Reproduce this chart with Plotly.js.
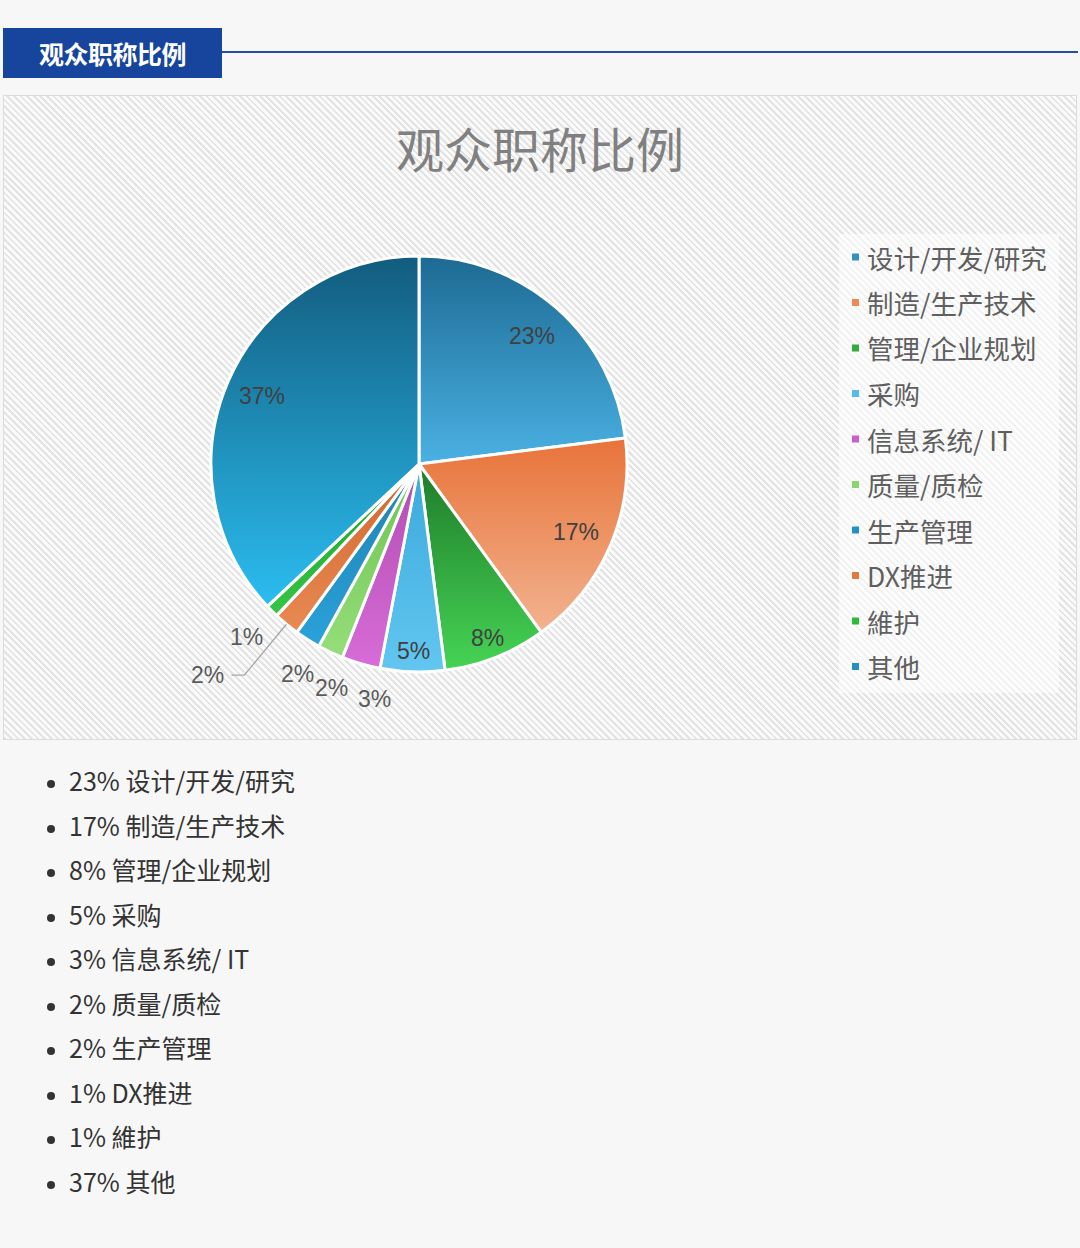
<!DOCTYPE html>
<html>
<head>
<meta charset="utf-8">
<script src="https://cdn.plot.ly/plotly-3.0.1.min.js"></script>
<style>
  html, body { margin: 0; padding: 0; background: #f7f7f7; }
  body { width: 1080px; height: 1248px; position: relative; overflow: hidden;
         font-family: "Noto Sans CJK SC", "Noto Sans", sans-serif; }
  #head { position: absolute; left: 3px; top: 28px; width: 219px; height: 50px;
          background: #17449c; color: #fff; font-weight: 700; font-size: 25px;
          line-height: 50px; text-align: center; letter-spacing: -0.5px; }
  #rule { position: absolute; left: 222px; top: 51px; width: 856px; height: 2px; background: #2350a5; }
  #chart { position: absolute; left: 3px; top: 95px; width: 1072px; height: 643px;
           border: 1px solid #dcdcdc;
           background: repeating-linear-gradient(45deg, #e3e3e3 0 1.9px, #fafafa 1.9px 4.7px); }
  #list { position: absolute; left: 0; top: 758px; margin: 0; padding-left: 69px;
          font-size: 25px; line-height: 44.5px; color: #333; }
  #list li::marker { color: #333; font-size: 20px; }
</style>
</head>
<body>
<div id="head">观众职称比例</div>
<div id="rule"></div>
<div id="chart"></div>
<ul id="list"></ul>
<script>
// categories, clockwise from 12 o'clock
const categories = ['设计/开发/研究', '制造/生产技术', '管理/企业规划', '采购', '信息系统/ IT',
  '质量/质检', '生产管理', 'DX推进', '維护', '其他'];
// shares as drawn in the pie
const shares = [23, 17, 8, 5, 3, 2, 2, 2, 1, 37];
// shares as written in the list below the chart
const listShares = [23, 17, 8, 5, 3, 2, 2, 1, 1, 37];
const colors = ['#3290c2', '#ec8a55', '#33ac3f', '#55bde9', '#c95fc9',
  '#8cd470', '#2690c4', '#e27a3f', '#2dbb3c', '#2290c2'];
// vertical shading of each slice (top -> bottom)
const shadeTop = ['#1d6a93', '#e8733a', '#1e7b2a', '#3aa9dc', '#b04cb0',
  '#6cc24e', '#1f7fb0', '#d0662e', '#1a9e2a', '#125c7e'];
const shadeBottom = ['#4ab1e3', '#f2b38f', '#46d455', '#62c6f0', '#d86cd8',
  '#96de7a', '#2aa2da', '#e88a52', '#35c646', '#2bbdf0'];
// where each percent label goes: in the slice, outside, or on a leader line
const labelStyle = ['in', 'in', 'in', 'in', 'out', 'out', 'out', 'lead', 'out', 'in'];

const W = 1072, H = 643;
const cx = 415, cy = 368, R = 208;      // pie centre / radius in px (matches domain below)
const legTop = 161, legStep = 45.5;

// px -> paper helpers
const px = (x) => x / W;
const py = (y) => 1 - y / H;
const total = shares.reduce((a, b) => a + b, 0);

const shapes = [{
  type: 'rect', xref: 'paper', yref: 'paper',
  x0: px(835), x1: px(1055), y0: py(597), y1: py(138),
  fillcolor: 'rgba(255,255,255,0.55)', line: { width: 0 }, layer: 'below'
}];
const annotations = [];

// legend built from the categories / colours
categories.forEach((c, i) => {
  const yc = legTop + legStep * i;
  shapes.push({
    type: 'rect', xref: 'paper', yref: 'paper',
    x0: px(848), x1: px(855), y0: py(yc + 3.5), y1: py(yc - 3.5),
    fillcolor: colors[i], line: { width: 0 }
  });
  annotations.push({
    xref: 'paper', yref: 'paper', x: px(861), y: py(yc), xanchor: 'left', yanchor: 'middle',
    text: c, showarrow: false,
    font: { family: 'Noto Sans CJK SC', size: 26.5, color: '#5f5f5f' }
  });
});

// mid-angle of every slice
const mids = [];
let cum = 0;
shares.forEach((v) => { mids.push((cum + v / 2) / total * 2 * Math.PI); cum += v; });

// outside labels are fanned out a bit around the last one so they don't collide
const outIdx = labelStyle.map((s, i) => s === 'out' ? i : -1).filter((i) => i >= 0);
const fanRef = Math.max(...outIdx.map((i) => mids[i]));
const fan = 1.19;

const lblFont = 'Liberation Sans';
shares.forEach((v, i) => {
  const pct = Math.round(v / total * 100) + '%';
  if (labelStyle[i] === 'in') {
    const th = mids[i], s = Math.sin(th), c = Math.cos(th);
    const r = v >= 10 ? 0.82 * R : 0.9 * R;
    annotations.push({
      xref: 'paper', yref: 'paper', x: px(cx + r * s), y: py(cy - r * c),
      text: pct, showarrow: false, xanchor: 'center', yanchor: 'middle',
      font: { family: lblFont, size: 23, color: '#404040' }
    });
  } else if (labelStyle[i] === 'out') {
    const th = fanRef + (mids[i] - fanRef) * fan, s = Math.sin(th), c = Math.cos(th);
    const r = R + 29 + 10 * Math.abs(s);
    annotations.push({
      xref: 'paper', yref: 'paper', x: px(cx + r * s), y: py(cy - r * c),
      text: pct, showarrow: false, xanchor: 'center', yanchor: 'middle',
      font: { family: lblFont, size: 23, color: '#5a5a5a' }
    });
  } else {
    const th = mids[i], s = Math.sin(th), c = Math.cos(th);
    const x1 = cx + R * s, y1 = cy - R * c;
    const x2 = cx + (R + 66) * s, y2 = cy - (R + 66) * c;
    const x3 = x2 - 13;
    shapes.push({
      type: 'path', xref: 'paper', yref: 'paper',
      path: `M ${px(x1)} ${py(y1)} L ${px(x2)} ${py(y2)} L ${px(x3)} ${py(y2)}`,
      line: { color: '#a6a6a6', width: 1.3 }
    });
    annotations.push({
      xref: 'paper', yref: 'paper', x: px(x3 - 5), y: py(y2), xanchor: 'right', yanchor: 'middle',
      text: pct, showarrow: false,
      font: { family: lblFont, size: 23, color: '#5a5a5a' }
    });
  }
});

const trace = {
  type: 'pie',
  labels: categories,
  values: shares,
  sort: false,
  direction: 'clockwise',
  rotation: 0,
  marker: { colors: colors, line: { color: '#ffffff', width: 3 } },
  textinfo: 'none',
  domain: { x: [px(cx - R), px(cx + R)], y: [py(cy + R), py(cy - R)] },
  hoverinfo: 'label+percent'
};

const layout = {
  width: W, height: H,
  margin: { l: 0, r: 0, t: 0, b: 0 },
  paper_bgcolor: 'rgba(0,0,0,0)',
  plot_bgcolor: 'rgba(0,0,0,0)',
  showlegend: false,
  title: {
    text: '观众职称比例', x: 0.5, xanchor: 'center', y: py(55), yanchor: 'middle',
    font: { family: 'Noto Sans CJK SC', size: 48, color: '#808080' }
  },
  shapes: shapes,
  annotations: annotations
};

Plotly.newPlot('chart', [trace], layout, { displayModeBar: false, staticPlot: true }).then((gd) => {
  // give each slice a top-to-bottom shade
  const NS = 'http://www.w3.org/2000/svg';
  const svg = gd.querySelector('svg.main-svg');
  const defs = document.createElementNS(NS, 'defs');
  shadeTop.forEach((t, i) => {
    const g = document.createElementNS(NS, 'linearGradient');
    g.setAttribute('id', 'shade' + i);
    g.setAttribute('x1', '0'); g.setAttribute('y1', '0');
    g.setAttribute('x2', '0'); g.setAttribute('y2', '1');
    [[0, t], [1, shadeBottom[i]]].forEach(([o, col]) => {
      const st = document.createElementNS(NS, 'stop');
      st.setAttribute('offset', o);
      st.setAttribute('stop-color', col);
      g.appendChild(st);
    });
    defs.appendChild(g);
  });
  svg.insertBefore(defs, svg.firstChild);
  gd.querySelectorAll('g.slice path.surface').forEach((p, i) => {
    p.style.fill = `url(#shade${i})`;
  });
});

const ul = document.getElementById('list');
categories.forEach((c, i) => {
  const li = document.createElement('li');
  li.textContent = listShares[i] + '% ' + c;
  ul.appendChild(li);
});
</script>
</body>
</html>
